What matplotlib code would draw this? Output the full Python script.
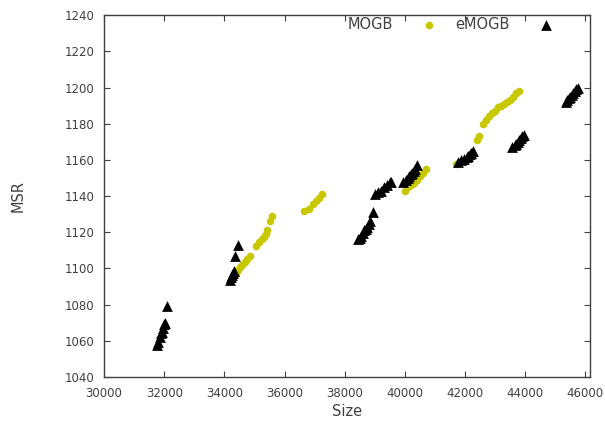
import numpy as np
import matplotlib
matplotlib.use("Agg")
import matplotlib.pyplot as plt

# MOGB (yellow dots)
mogb_size = [34380, 34450, 34520, 34600, 34680, 34750, 34850, 35050, 35150, 35250,
             35330, 35400, 35430, 35520, 35580,
             36650, 36800, 36950, 37050, 37150, 37250,
             40000, 40100, 40200, 40300, 40400, 40500, 40600, 40700,
             41700, 41800,
             42400, 42450,
             42600, 42700, 42800, 42900, 43000, 43100, 43200, 43300, 43400, 43500,
             43600, 43700, 43800]
mogb_msr = [1097, 1099, 1100.5, 1102, 1103.5, 1105, 1107, 1112.5, 1114.5, 1116,
            1117.5, 1119, 1121, 1126, 1129,
            1131.5, 1133, 1135.5, 1137.5, 1139, 1141,
            1143, 1145, 1146, 1147, 1149, 1151, 1153, 1155,
            1157.5, 1158,
            1171, 1173,
            1180, 1182, 1184, 1186, 1187, 1189, 1190, 1191, 1192, 1193,
            1195, 1197, 1198]

# eMOGB (black triangles)
emogb_size = [31750, 31800, 31850, 31880, 31920, 31960, 31990, 32010, 32100,
              34200, 34230, 34260, 34290, 34320, 34350, 34450,
              38450, 38500, 38550, 38600, 38650, 38700, 38750, 38800, 38850, 38950,
              39000, 39100, 39200, 39300, 39400, 39500, 39550,
              39950, 40050, 40100, 40150, 40200, 40250, 40300, 40350, 40400,
              41750, 41850, 41950, 42050, 42100, 42150, 42200, 42250,
              43550, 43650, 43700, 43750, 43800, 43850, 43900, 43950,
              45350, 45400, 45450, 45500, 45550, 45600, 45650, 45700, 45750]
emogb_msr = [1057.5, 1059.5, 1062, 1064, 1065, 1067, 1069, 1070, 1079,
             1093.5, 1095, 1096.5, 1097.5, 1098.5, 1107, 1113,
             1116, 1117, 1118, 1119.5, 1121, 1122, 1123, 1124.5, 1126, 1131,
             1141, 1142, 1143, 1145, 1146, 1148, 1148,
             1148, 1149, 1150, 1151, 1152, 1153, 1154, 1155, 1157,
             1159, 1160, 1160.5, 1161.5, 1162, 1163, 1164, 1165,
             1167, 1168, 1169, 1170, 1171, 1172, 1173, 1174,
             1192, 1193, 1194, 1195, 1196, 1197, 1198, 1199, 1200]

x_ticks = np.arange(30000, 46001, 2000)
y_ticks = np.arange(1040, 1241, 20)

fig = plt.figure(figsize=(6.05, 4.22), dpi=100)
ax = fig.add_axes([0.172, 0.107, 0.803, 0.857])

ax.scatter(mogb_size, mogb_msr, s=30, marker="o", color="#c8c800", label="MOGB",
           linewidths=0, zorder=3)
ax.scatter(emogb_size, emogb_msr, s=60, marker="^", color="black", label="eMOGB",
           linewidths=0, zorder=4)

ax.set_xlim(30000, 46150)
ax.set_ylim(1040, 1240)
ax.set_xticks(x_ticks)
ax.set_yticks(y_ticks)
ax.tick_params(direction="in", top=True, right=True, length=4, width=0.8,
               labelsize=8.5, labelcolor="#404040", color="#404040", pad=7)
for sp in ax.spines.values():
    sp.set_color("#404040")
    sp.set_linewidth(1.0)

ax.set_xlabel("Size", fontsize=10.5, color="#404040", labelpad=3)
ax.set_ylabel("MSR", fontsize=10.5, color="#404040", labelpad=28)

leg = ax.legend(loc="upper right", ncol=2, markerfirst=False, frameon=False,
                fontsize=10.5, handletextpad=1.5, columnspacing=0.8,
                borderaxespad=0.0, bbox_to_anchor=(0.952, 1.012))
for t in leg.get_texts():
    t.set_color("#404040")

fig.savefig("out.png", dpi=100)
